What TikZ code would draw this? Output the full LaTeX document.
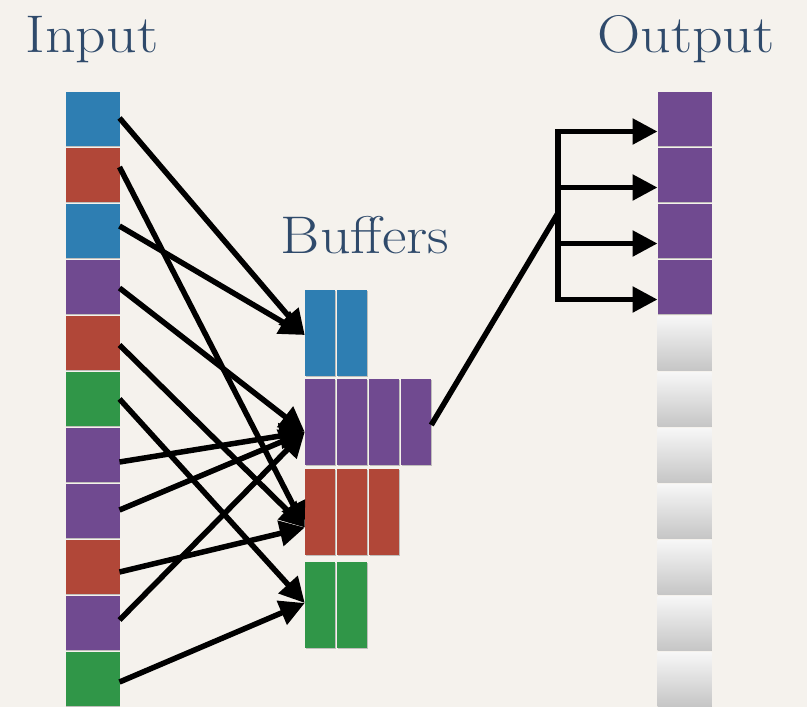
\documentclass[tikz,border=0pt]{standalone}
\usepackage{fontspec}
\newfontfamily\titlefont{Latin Modern Roman}[FakeStretch=1.13]
\usetikzlibrary{arrows.meta,calc,shadows}

\definecolor{bg}{RGB}{245,242,237}
\definecolor{ink}{RGB}{47,74,107}
\definecolor{cblue}{RGB}{46,126,178}
\definecolor{cred}{RGB}{177,71,56}
\definecolor{cpurple}{RGB}{112,74,144}
\definecolor{cgreen}{RGB}{48,150,72}
\definecolor{gtop}{RGB}{247,247,247}
\definecolor{gbot}{RGB}{198,198,198}

\begin{document}
\begin{tikzpicture}[x=1pt,y=-1pt,
  cell/.style={draw=none,inner sep=0pt,outer sep=0pt,
    drop shadow={shadow xshift=0.9pt,shadow yshift=-1.4pt,opacity=0.45}},
  slot/.style={cell,minimum width=54pt,minimum height=54pt},
  bufcell/.style={cell,minimum width=30.5pt,minimum height=86pt},
  wire/.style={line width=5.5pt,black},
  link/.style={wire,-{Triangle[length=25pt,width=25pt]}},
  title/.style={text=ink,font=\titlefont\fontsize{53}{60}\selectfont,anchor=base,inner sep=0pt}]

% page and background
\fill[bg] (0,0) rectangle (807,707);
\useasboundingbox (0,0) rectangle (807,707);

% titles
\node[title] (tin) at (92,52) {Input};
\node[title] (tout) at (686,52) {Output};
\node[title] (tbuf) at (365,253) {Buffers};

% input column
\foreach \c [count=\i] in {cblue,cred,cblue,cpurple,cred,cgreen,cpurple,cpurple,cred,cpurple,cgreen}
  \node[slot,fill=\c] (in\i) at (92.5,{119+56*(\i-1)}) {};

% buffers
\foreach \k in {1,2}
  \node[bufcell,fill=cblue] (bb\k) at ({320+32*(\k-1)},332.5) {};
\foreach \k in {1,...,4}
  \node[bufcell,fill=cpurple] (pb\k) at ({320+32*(\k-1)},421.5) {};
\foreach \k in {1,...,3}
  \node[bufcell,fill=cred] (rb\k) at ({320+32*(\k-1)},511.5) {};
\foreach \k in {1,2}
  \node[bufcell,fill=cgreen] (gb\k) at ({320+32*(\k-1)},605) {};

% output column
\foreach \i in {1,...,4}
  \node[slot,fill=cpurple] (out\i) at (684.5,{119+56*(\i-1)}) {};
\foreach \i in {5,...,11}
  \node[slot,top color=gtop,bottom color=gbot] (out\i) at (684.5,{119+56*(\i-1)}) {};

% arrow targets on the buffers
\coordinate (tb) at ($(bb1.west)+(0,2.5)$);
\coordinate (tp) at ($(pb1.west)+(0,10.5)$);
\coordinate (tr) at ($(rb1.west)+(0,16)$);
\coordinate (tg) at ($(gb1.west)+(0,-2)$);

% input -> buffer
\foreach \i/\dy/\t in {1/-1/tb,2/-8/tr,3/-5/tb,4/1/tp,5/2/tr,6/0/tg,
                       7/7/tp,8/-1/tp,9/5/tr,10/-3/tp,11/3/tg}
  \draw[link] ($(in\i.east)+(0,\dy)$) -- (\t);

% buffer -> output
\coordinate (split) at (558,213);
\foreach \i in {1,...,4}
  \coordinate (o\i) at ($(out\i.west)+(0,12.5)$);
\draw[wire,line cap=rect] (split |- o1) -- (split |- o4);
\foreach \i in {1,...,4}
  \draw[link] (split |- o\i) -- (o\i);
\draw[wire] ($(pb4.east)+(0,3.5)$) -- (split);
\end{tikzpicture}
\end{document}
